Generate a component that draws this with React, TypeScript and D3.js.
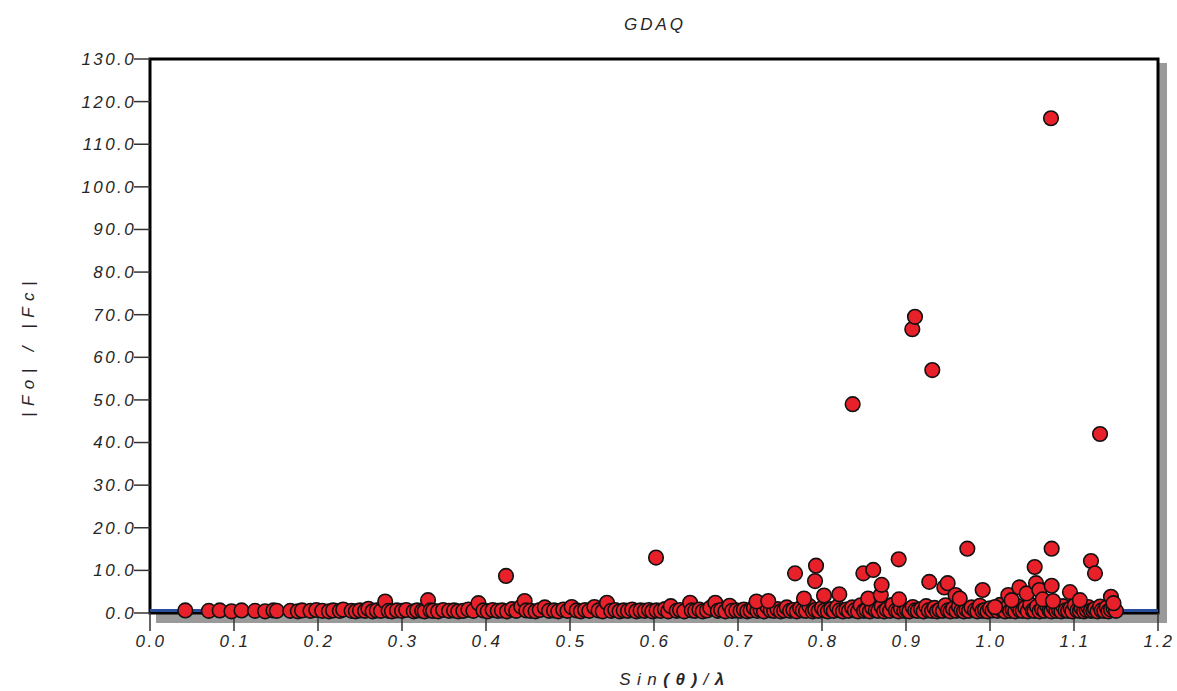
import React from "react";
import * as d3 from "d3";

// Reflection statistics: sin(theta)/lambda against |Fo|/|Fc|
const chartTitle = "GDAQ";

const xTickValues = [0, 0.1, 0.2, 0.3, 0.4, 0.5, 0.6, 0.7, 0.8, 0.9, 1.0, 1.1, 1.2];
const yTickValues = [0, 10, 20, 30, 40, 50, 60, 70, 80, 90, 100, 110, 120, 130];

// ratio level drawn as the blue guide line
const referenceLevel = 0.6;

// low-resolution shell
const lowShell: [number, number][] = [
  [0.042, 0.6], [0.070, 0.5], [0.083, 0.6], [0.097, 0.4], [0.109, 0.6], [0.125, 0.5],
  [0.137, 0.4], [0.147, 0.6], [0.151, 0.5], [0.167, 0.5], [0.176, 0.4], [0.181, 0.6],
  [0.191, 0.5], [0.198, 0.7], [0.205, 0.5], [0.213, 0.4], [0.218, 0.6], [0.226, 0.5],
  [0.230, 0.8], [0.240, 0.5], [0.245, 0.4], [0.250, 0.6], [0.256, 0.5], [0.260, 1.0],
  [0.265, 0.4], [0.270, 0.6], [0.275, 0.5], [0.280, 2.7], [0.284, 0.5], [0.288, 0.4],
  [0.294, 0.6], [0.300, 0.5], [0.305, 0.7], [0.314, 0.4], [0.318, 0.6], [0.324, 0.5],
  [0.327, 0.4], [0.331, 3.0], [0.334, 0.6],
];

// middle shell
const midShell: [number, number][] = [
  [0.337, 0.5], [0.343, 0.4], [0.349, 0.7], [0.356, 0.5], [0.362, 0.6], [0.367, 0.4],
  [0.373, 0.5], [0.379, 0.8], [0.385, 0.5], [0.391, 2.3], [0.397, 0.6], [0.402, 0.4],
  [0.408, 0.7], [0.414, 0.5], [0.419, 0.6], [0.425, 0.4], [0.431, 0.9], [0.436, 0.5],
  [0.442, 1.5], [0.446, 2.8], [0.448, 0.6], [0.453, 0.5], [0.459, 0.4], [0.464, 0.7],
  [0.470, 1.3], [0.475, 0.5], [0.481, 0.6], [0.486, 0.4], [0.492, 0.8], [0.497, 0.5],
  [0.502, 1.4], [0.508, 0.6], [0.513, 0.4], [0.518, 0.7], [0.523, 0.5], [0.529, 1.4],
  [0.534, 0.6], [0.539, 0.4], [0.544, 2.4], [0.549, 0.5], [0.554, 0.7], [0.559, 0.4],
  [0.564, 0.6], [0.569, 0.5], [0.574, 0.8], [0.579, 0.4], [0.584, 0.6], [0.589, 0.5],
  [0.594, 0.7], [0.598, 0.4], [0.603, 0.6], [0.608, 0.5], [0.613, 0.9], [0.617, 0.4],
  [0.620, 1.6], [0.627, 0.5], [0.631, 0.7], [0.636, 0.4], [0.643, 2.4], [0.645, 0.6],
  [0.649, 0.5], [0.654, 0.8], [0.658, 0.4], [0.663, 0.6], [0.667, 1.2], [0.673, 2.4],
  [0.676, 0.5], [0.680, 0.7], [0.685, 0.4], [0.690, 1.7], [0.693, 0.5], [0.698, 0.6],
];

// high-resolution shell, the dense band near the axis
const highShell: [number, number][] = [
  [0.703, 0.5], [0.707, 0.8], [0.711, 0.4], [0.715, 0.6], [0.719, 1.2], [0.723, 0.5],
  [0.727, 0.7], [0.731, 0.4], [0.735, 1.5], [0.739, 0.6], [0.743, 0.5], [0.747, 0.9],
  [0.751, 0.4], [0.755, 0.6], [0.758, 1.3], [0.762, 0.5], [0.766, 0.7], [0.770, 0.4],
  [0.774, 1.1], [0.777, 0.6], [0.781, 0.5], [0.785, 1.6], [0.789, 0.4], [0.792, 0.7],
  [0.796, 0.5], [0.800, 1.2], [0.803, 0.6], [0.807, 0.4], [0.811, 0.9], [0.814, 0.5],
  [0.818, 1.4], [0.821, 0.6], [0.825, 0.4], [0.829, 0.8], [0.832, 0.5], [0.836, 1.3],
  [0.839, 0.6], [0.843, 0.4], [0.846, 1.8], [0.850, 0.5], [0.853, 0.7], [0.857, 0.4],
  [0.860, 1.2], [0.864, 0.6], [0.867, 0.5], [0.871, 1.5], [0.874, 0.4], [0.877, 0.8],
  [0.881, 0.5], [0.884, 1.9], [0.888, 0.6], [0.891, 0.4], [0.894, 1.1], [0.898, 0.5],
  [0.901, 0.7], [0.904, 0.4], [0.908, 1.4], [0.911, 0.6], [0.914, 0.5], [0.918, 0.9],
  [0.921, 0.4], [0.924, 1.6], [0.927, 0.6], [0.931, 0.5], [0.934, 1.2], [0.937, 0.4],
  [0.940, 0.7], [0.944, 0.5], [0.947, 1.8], [0.950, 0.6], [0.953, 0.4], [0.956, 1.0],
  [0.960, 0.5], [0.963, 1.5], [0.966, 0.6], [0.969, 0.4], [0.972, 0.8], [0.975, 0.5],
  [0.978, 1.3], [0.982, 0.6], [0.985, 0.4], [0.988, 1.7], [0.991, 0.5], [0.994, 0.7],
  [0.997, 0.4], [1.000, 1.1], [1.003, 0.6], [1.006, 1.2], [1.009, 0.5], [1.012, 1.9],
  [1.015, 0.6], [1.018, 0.4], [1.021, 1.4], [1.024, 0.5], [1.027, 0.8], [1.030, 0.4],
  [1.033, 1.6], [1.036, 0.6], [1.039, 0.5], [1.042, 1.2], [1.045, 0.4], [1.048, 2.0],
  [1.051, 0.6], [1.053, 0.5], [1.056, 1.5], [1.059, 0.4], [1.062, 0.9], [1.065, 0.5],
  [1.068, 1.7], [1.071, 0.6], [1.073, 0.4], [1.076, 1.3], [1.079, 0.5], [1.082, 0.8],
  [1.085, 0.4], [1.087, 1.6], [1.090, 0.6], [1.093, 0.5], [1.096, 1.1], [1.098, 0.4],
  [1.101, 1.8], [1.104, 0.6], [1.107, 0.5], [1.109, 1.2], [1.112, 0.4], [1.115, 0.7],
  [1.117, 1.4], [1.120, 0.5], [1.123, 0.6], [1.125, 1.0], [1.128, 0.4], [1.131, 1.5],
  [1.133, 0.6], [1.136, 0.5], [1.139, 1.3], [1.141, 0.4], [1.144, 0.8], [1.147, 1.1],
  [1.150, 0.5],
];

// moderately raised reflections in the outer shells
const raisedPoints: [number, number][] = [
  [0.722, 2.7], [0.736, 2.8], [0.7786, 3.4], [0.7917, 7.5], [0.8024, 4.1], [0.8206, 4.4],
  [0.855, 3.4], [0.870, 4.2], [0.871, 6.6], [0.8917, 3.2], [0.9277, 7.3], [0.9456, 6.0],
  [0.9496, 7.0], [0.959, 4.2], [0.964, 3.4], [0.9913, 5.4], [1.006, 1.4], [1.0218, 4.2],
  [1.0258, 3.0], [1.035, 6.0], [1.0437, 4.6], [1.0548, 7.0], [1.0587, 5.4], [1.0627, 3.2],
  [1.0734, 6.4], [1.075, 2.8], [1.0952, 4.9], [1.107, 3.0], [1.144, 3.8], [1.147, 2.3],
];

// strong outliers
const strongOutliers: [number, number][] = [
  [0.4238, 8.7], [0.6024, 13.0], [0.7679, 9.3], [0.7929, 11.1], [0.8365, 49.0],
  [0.8492, 9.3], [0.861, 10.1], [0.8913, 12.6], [0.9075, 66.6], [0.9107, 69.5],
  [0.9313, 57.0], [0.973, 15.1], [1.0532, 10.8], [1.0726, 116.1], [1.0734, 15.1],
  [1.1202, 12.2], [1.125, 9.3], [1.131, 42.0],
];

const W = 1177;
const H = 691;
const plotLeft = 150;
const plotRight = 1158;
const plotTop = 59;
const plotBottom = 613;

const font = "'Liberation Sans', Arial, sans-serif";
const textColor = "#262626";

export default function App() {
  const x = d3.scaleLinear().domain([0, 1.2]).range([plotLeft, plotRight]);
  const y = d3.scaleLinear().domain([0, 130]).range([plotBottom, plotTop]);
  const allPoints = [...lowShell, ...midShell, ...highShell, ...raisedPoints, ...strongOutliers];

  return (
    <svg
      width={W}
      height={H}
      style={{ position: "absolute", left: 0, top: 0, background: "#fff" }}
    >
      {/* drop shadow behind the plot frame */}
      <rect x={156} y={63} width={1167 - 156} height={623 - 63} fill="#9a9a9a" />
      <rect
        x={plotLeft}
        y={plotTop}
        width={plotRight - plotLeft}
        height={plotBottom - plotTop}
        fill="#fff"
        stroke="#000"
        strokeWidth={3}
      />

      {/* y axis ticks and labels */}
      {yTickValues.map((v) => (
        <g key={`y${v}`}>
          <line x1={plotLeft - 16} x2={plotLeft} y1={y(v)} y2={y(v)} stroke="#333" strokeWidth={1.5} />
          <text
            x={plotLeft - 14}
            y={y(v)}
            dy="0.35em"
            textAnchor="end"
            fontFamily={font}
            fontStyle="italic"
            fontSize={17}
            letterSpacing={2.4}
            fill={textColor}
          >
            {d3.format(".1f")(v)}
          </text>
        </g>
      ))}

      {/* x axis ticks and labels */}
      {xTickValues.map((v) => (
        <g key={`x${v}`}>
          <line x1={x(v)} x2={x(v)} y1={plotBottom} y2={plotBottom + 18} stroke="#333" strokeWidth={1.5} />
          <text
            x={x(v) + 1}
            y={647}
            textAnchor="middle"
            fontFamily={font}
            fontStyle="italic"
            fontSize={17}
            letterSpacing={2.4}
            fill={textColor}
          >
            {d3.format(".1f")(v)}
          </text>
        </g>
      ))}

      {/* guide line at the reference ratio */}
      <line
        x1={x(0)}
        x2={x(1.2)}
        y1={y(referenceLevel)}
        y2={y(referenceLevel)}
        stroke="#2a4e9c"
        strokeWidth={3}
      />

      {/* reflections */}
      {allPoints.map(([sx, r], i) => (
        <circle key={i} cx={x(sx)} cy={y(r)} r={7.3} fill="#e8202a" stroke="#111" strokeWidth={1.6} />
      ))}

      {/* title */}
      <text
        x={655}
        y={30}
        textAnchor="middle"
        fontFamily={font}
        fontStyle="italic"
        fontSize={17}
        letterSpacing={3}
        fill={textColor}
      >
        {chartTitle}
      </text>

      {/* x axis title */}
      <text
        x={675}
        y={685}
        textAnchor="middle"
        fontFamily={font}
        fontStyle="italic"
        fontSize={17}
        letterSpacing={6.5}
        fill={textColor}
      >
        <tspan>Sin</tspan>
        <tspan fontWeight="bold">(θ)</tspan>
        <tspan>/</tspan>
        <tspan fontWeight="bold">λ</tspan>
      </text>

      {/* y axis title */}
      <text
        transform="translate(34,346) rotate(-90)"
        textAnchor="middle"
        fontFamily={font}
        fontStyle="italic"
        fontSize={17}
        letterSpacing={6.5}
        fill={textColor}
      >
        |Fo| / |Fc|
      </text>
    </svg>
  );
}
